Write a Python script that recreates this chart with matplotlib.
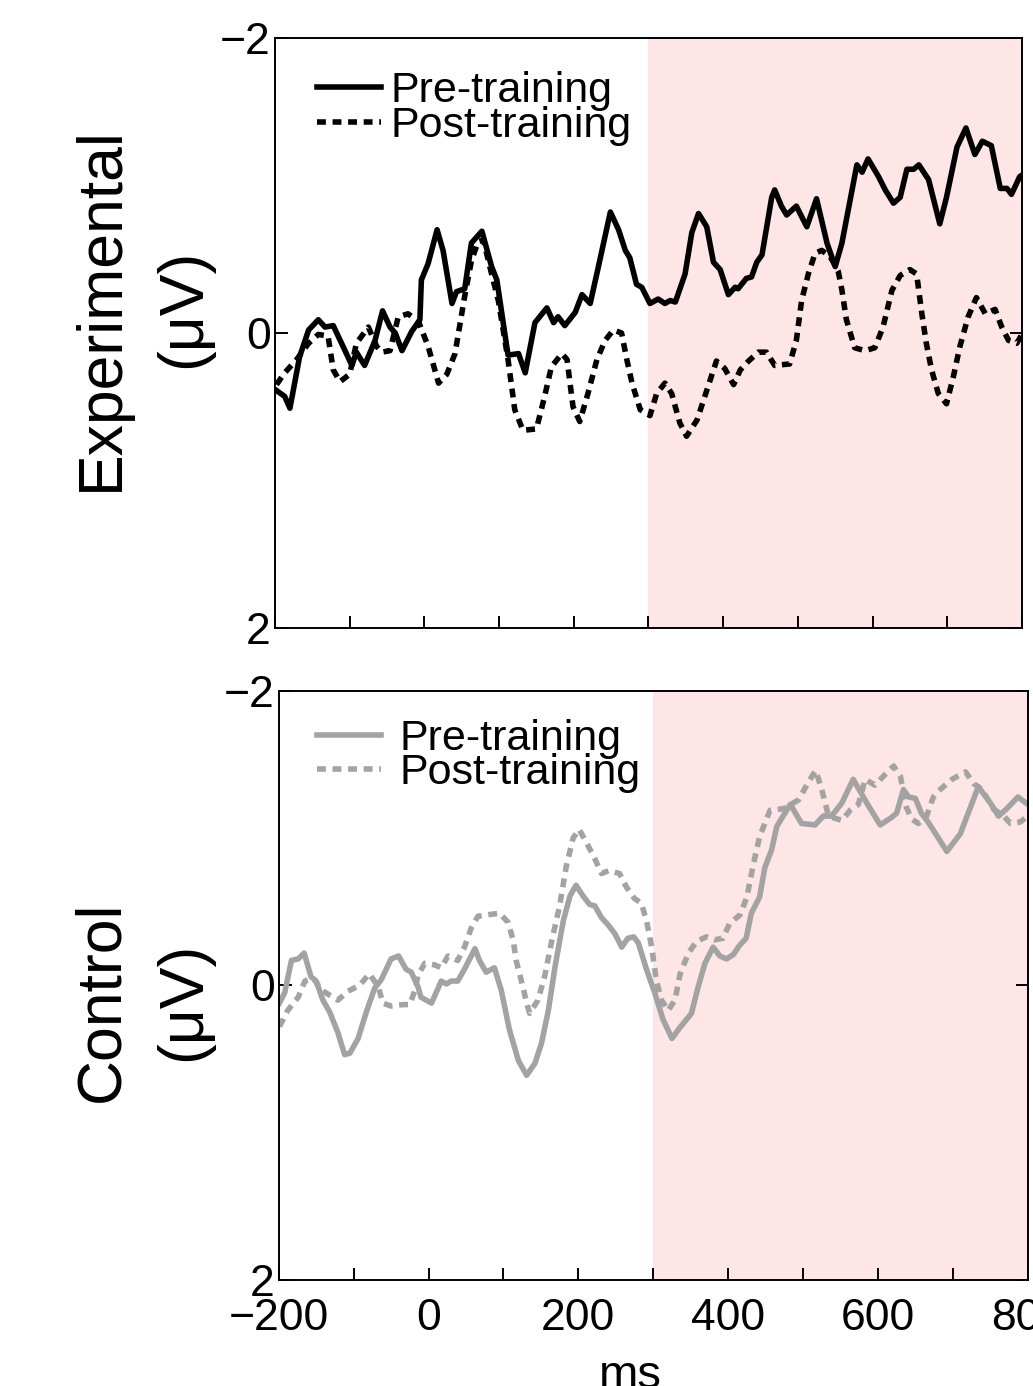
import matplotlib
matplotlib.use("Agg")
import matplotlib.pyplot as plt

# ERP traces (time in ms, amplitude in uV; negative up)
exp_pre_t = [-198, -187, -180, -167, -155, -142, -133, -122, -109, -97, -91, -80, -66, -56, -46, -39, -30, -17, -6, -4,
             5, 17, 25, 37, 43, 54, 63, 77, 90, 97, 112, 126, 135, 148, 164, 173, 179, 188, 202, 211,
             222, 233, 249, 260, 269, 275, 284, 291, 302, 313, 322, 329, 336, 349, 358, 367, 378, 387, 396, 407,
             416, 420, 431, 438, 445, 452, 465, 469, 478, 485, 498, 512, 525, 539, 550, 559, 579, 586, 594, 608,
             617, 628, 637, 646, 655, 662, 675, 684, 690, 699, 713, 725, 737, 747, 759, 771, 780, 786, 797, 800]
exp_pre = [0.39, 0.43, 0.51, 0.16, -0.02, -0.09, -0.04, -0.05, 0.09, 0.22, 0.13, 0.22, 0.05, -0.15, -0.04, 0.0, 0.12, -0.01, -0.09, -0.36,
           -0.47, -0.70, -0.56, -0.20, -0.28, -0.30, -0.61, -0.69, -0.45, -0.36, 0.15, 0.14, 0.27, -0.07, -0.17, -0.07, -0.11, -0.05, -0.14, -0.26,
           -0.20, -0.45, -0.82, -0.70, -0.56, -0.51, -0.33, -0.31, -0.20, -0.23, -0.20, -0.22, -0.21, -0.40, -0.68, -0.81, -0.72, -0.48, -0.43, -0.26,
           -0.31, -0.30, -0.37, -0.38, -0.48, -0.53, -0.92, -0.97, -0.86, -0.80, -0.86, -0.72, -0.91, -0.61, -0.45, -0.61, -1.14, -1.09, -1.18, -1.06,
           -0.97, -0.88, -0.92, -1.11, -1.11, -1.14, -1.04, -0.86, -0.74, -0.92, -1.26, -1.39, -1.21, -1.30, -1.27, -0.98, -0.98, -0.94, -1.06, -1.07]

exp_post_t = [-198, -187, -171, -155, -142, -129, -122, -113, -100, -91, -75, -64, -57, -46, -35, -22, -8, 5, 19, 30,
              41, 54, 63, 72, 79, 90, 99, 112, 121, 132, 150, 161, 170, 184, 191, 199, 208, 219, 231, 242,
              253, 264, 271, 278, 289, 302, 311, 322, 331, 342, 351, 365, 378, 391, 402, 414, 423, 434, 447, 458,
              469, 489, 498, 505, 514, 523, 532, 543, 554, 559, 565, 576, 590, 603, 614, 626, 637, 650, 659, 666,
              672, 679, 688, 699, 708, 717, 728, 739, 751, 764, 773, 782, 793, 800]
exp_post = [0.35, 0.27, 0.18, 0.07, 0.01, 0.02, 0.25, 0.33, 0.28, 0.07, -0.04, 0.09, 0.13, 0.12, -0.11, -0.13, -0.08, 0.09, 0.34, 0.28,
            0.14, -0.25, -0.49, -0.62, -0.63, -0.40, -0.22, 0.18, 0.52, 0.66, 0.65, 0.43, 0.23, 0.14, 0.18, 0.50, 0.60, 0.41, 0.18, 0.05,
            -0.02, 0.00, 0.18, 0.34, 0.52, 0.56, 0.41, 0.34, 0.41, 0.61, 0.70, 0.59, 0.39, 0.19, 0.24, 0.35, 0.25, 0.19, 0.13, 0.13,
            0.22, 0.21, 0.05, -0.22, -0.40, -0.54, -0.56, -0.52, -0.42, -0.29, -0.09, 0.10, 0.12, 0.10, -0.04, -0.29, -0.39, -0.43, -0.40, -0.13,
            0.07, 0.25, 0.41, 0.48, 0.30, 0.09, -0.11, -0.24, -0.13, -0.16, -0.04, 0.05, 0.07, 0.01]

ctl_pre_t = [-199, -192, -183, -174, -166, -157, -150, -141, -132, -121, -112, -105, -94, -83, -72, -63, -50, -40, -30, -23,
             -14, -10, 4, 17, 24, 30, 39, 48, 62, 68, 77, 88, 97, 108, 120, 131, 142, 151, 160, 169,
             180, 189, 197, 206, 215, 222, 231, 240, 249, 258, 266, 274, 280, 291, 302, 313, 325, 335, 351, 360,
             369, 380, 389, 398, 407, 415, 424, 431, 442, 449, 458, 465, 483, 498, 516, 527, 538, 552, 567, 585,
             603, 618, 625, 634, 641, 650, 658, 667, 692, 710, 734, 750, 761, 772, 787, 800]
ctl_pre = [0.12, 0.05, -0.17, -0.18, -0.22, -0.06, -0.03, 0.10, 0.18, 0.32, 0.47, 0.46, 0.36, 0.18, 0.02, -0.04, -0.18, -0.20, -0.11, -0.09,
           0.01, 0.08, 0.12, -0.03, -0.01, -0.03, -0.03, -0.11, -0.25, -0.17, -0.09, -0.12, 0.03, 0.30, 0.51, 0.61, 0.53, 0.39, 0.17, -0.13,
           -0.44, -0.61, -0.68, -0.61, -0.55, -0.54, -0.46, -0.41, -0.35, -0.26, -0.32, -0.33, -0.29, -0.11, 0.05, 0.23, 0.36, 0.29, 0.19, 0.01,
           -0.15, -0.26, -0.20, -0.18, -0.21, -0.27, -0.32, -0.49, -0.60, -0.80, -0.92, -1.08, -1.23, -1.10, -1.09, -1.15, -1.15, -1.24, -1.40, -1.24,
           -1.09, -1.14, -1.17, -1.33, -1.28, -1.27, -1.17, -1.11, -0.91, -1.03, -1.35, -1.24, -1.15, -1.20, -1.28, -1.23]

ctl_post_t = [-199, -188, -174, -165, -154, -143, -134, -121, -108, -92, -79, -67, -61, -50, -34, -25, -18, -14, -5, 8,
              17, 26, 39, 48, 57, 66, 79, 95, 106, 113, 117, 126, 131, 135, 146, 155, 164, 175, 184, 193,
              201, 211, 222, 231, 241, 255, 264, 275, 284, 291, 298, 304, 311, 320, 329, 336, 347, 358, 371, 382,
              393, 402, 416, 425, 434, 442, 456, 474, 494, 507, 517, 525, 534, 552, 563, 574, 583, 596, 609, 621,
              630, 638, 645, 654, 665, 674, 683, 699, 717, 728, 739, 754, 768, 777, 790, 800]
ctl_post = [0.28, 0.17, 0.08, -0.03, -0.05, 0.03, 0.06, 0.10, 0.04, 0.00, -0.08, 0.01, 0.12, 0.14, 0.13, 0.13, 0.03, -0.07, -0.15, -0.14,
            -0.12, -0.20, -0.17, -0.26, -0.39, -0.47, -0.48, -0.49, -0.43, -0.31, -0.17, 0.01, 0.12, 0.19, 0.10, -0.06, -0.29, -0.54, -0.81, -1.00,
            -1.06, -0.97, -0.86, -0.76, -0.78, -0.76, -0.67, -0.59, -0.56, -0.44, -0.26, -0.04, 0.10, 0.17, 0.10, -0.08, -0.22, -0.30, -0.33, -0.31,
            -0.32, -0.42, -0.48, -0.60, -0.83, -1.01, -1.19, -1.20, -1.26, -1.38, -1.46, -1.33, -1.15, -1.12, -1.19, -1.23, -1.40, -1.36, -1.43, -1.49,
            -1.42, -1.21, -1.13, -1.10, -1.15, -1.28, -1.33, -1.40, -1.45, -1.37, -1.33, -1.20, -1.15, -1.10, -1.11, -1.15]

window = (300, 800)
xticks = list(range(-200, 801, 100))
xlabels = ["\u2212200", "", "0", "", "200", "", "400", "", "600", "", "800"]
yticks = [-2, 0, 2]
ylabels = ["\u22122", "0", "2"]

tick_font = ["Liberation Sans", "DejaVu Sans"]
text_font = ["Liberation Sans", "DejaVu Sans"]
pink = "#fee5e6"
gray = "#a3a3a3"

fig = plt.figure(figsize=(10.33, 13.86), dpi=100)
ax1 = fig.add_axes([0.2662, 0.5469, 0.7231, 0.4257])
ax2 = fig.add_axes([0.2698, 0.0765, 0.7251, 0.4250])

panels = [
    (ax1, exp_pre_t, exp_pre, exp_post_t, exp_post, "black", "Experimental\n(\u03bcV)", 0.7775, (0.056, 0.944), 0.2),
    (ax2, ctl_pre_t, ctl_pre, ctl_post_t, ctl_post, gray, "Control\n(\u03bcV)", 0.2775, (0.051, 0.953), 0.42),
]

for ax, tpre, vpre, tpost, vpost, col, lab, ylab_y, anchor, tpad in panels:
    ax.axvspan(window[0], window[1], color=pink, lw=0, zorder=0)
    ax.plot(tpre, vpre, color=col, lw=4.0, solid_joinstyle="round", label="Pre-training")
    ax.plot(tpost, vpost, color=col, lw=4.0, dashes=(1.6, 1.2), label="Post-training")
    ax.set_xlim(-200, 800)
    ax.set_ylim(2, -2)
    ax.set_xticks(xticks)
    ax.set_yticks(yticks)
    ax.set_yticklabels(ylabels, fontfamily=tick_font, fontsize=32)
    ax.tick_params(direction="in", width=1.4, length=9, left=True, right=True)
    ax.tick_params(axis="y", pad=3)
    for s in ax.spines.values():
        s.set_linewidth(1.4)
    ax.legend(loc="upper left", bbox_to_anchor=anchor, frameon=False, borderpad=0, borderaxespad=0,
              handlelength=1.5, handletextpad=tpad, labelspacing=-0.12,
              prop={"family": text_font, "size": 31})
    fig.text(0.138, ylab_y, lab, rotation=90, ha="center", va="center", multialignment="center",
             fontfamily=text_font, fontsize=45, linespacing=1.5)

ax1.set_xticklabels([])
ax2.set_xticklabels(xlabels, fontfamily=tick_font, fontsize=32)
ax2.tick_params(axis="x", pad=13)
ax2.set_xlabel("ms", fontfamily=text_font, fontsize=34)
ax2.xaxis.set_label_coords(0.469, -0.125)

fig.savefig("out.png", dpi=100)
